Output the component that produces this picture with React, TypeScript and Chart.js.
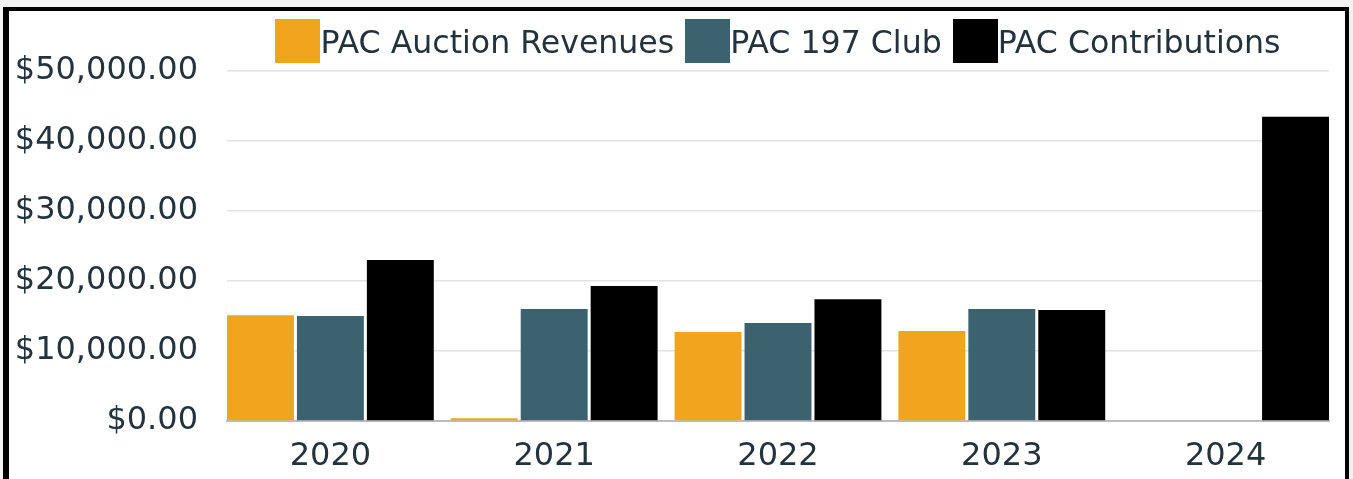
import React, { useEffect, useRef } from "react";
import { Chart, registerables } from "chart.js";

Chart.register(...registerables);

const years = ["2020", "2021", "2022", "2023", "2024"];
const auctionRevenues = [15100, 400, 12700, 12850, 0];
const club197 = [15000, 16000, 14000, 16000, 0];
const contributions = [23000, 19300, 17400, 15850, 43450];
const seriesNames = ["PAC Auction Revenues", "PAC 197 Club", "PAC Contributions"];
const seriesColors = ["#F1A51F", "#3C6270", "#000000"];

const FONT = "'DejaVu Sans', sans-serif";
const TEXT = "#24323d";

const toPoints = (arr: number[]) => arr.map((y, i) => ({ x: i, y }));

export default function App() {
  const ref = useRef<HTMLCanvasElement | null>(null);

  useEffect(() => {
    if (!ref.current) return;
    const chart = new Chart(ref.current, {
      type: "bar",
      data: {
        datasets: [auctionRevenues, club197, contributions].map((d, i) => ({
          label: seriesNames[i],
          data: toPoints(d),
          backgroundColor: seriesColors[i],
          borderWidth: 0,
          categoryPercentage: 0.9375,
          barPercentage: 0.957,
        })),
      },
      options: {
        responsive: false,
        animation: false,
        layout: { padding: { left: 0, right: 24, top: 71, bottom: 0 } },
        plugins: { legend: { display: false }, tooltip: { enabled: false } },
        scales: {
          x: {
            type: "linear",
            offset: false,
            min: -0.462,
            max: 4.462,
            grid: { display: false, offset: false },
            border: { display: true, color: "#bcbcbc", width: 2 },
            ticks: {
              stepSize: 1,
              includeBounds: false,
              autoSkip: false,
              maxRotation: 0,
              padding: 8,
              color: TEXT,
              font: { family: FONT, size: 32 },
              callback: (v: any) => (Number.isInteger(v) ? years[v] : ""),
            },
            afterFit: (s: any) => {
              s.height = 58;
            },
          },
          y: {
            min: 0,
            max: 50000,
            grid: { color: "#e2e2e2", lineWidth: 1.5, drawTicks: false },
            border: { display: false },
            ticks: {
              stepSize: 10000,
              padding: 29,
              color: TEXT,
              font: { family: FONT, size: 32 },
              callback: (v: any) =>
                "$" + Number(v).toLocaleString("en-US", { minimumFractionDigits: 2, maximumFractionDigits: 2 }),
            },
            afterFit: (s: any) => {
              s.width = 227;
            },
          },
        },
      },
    });
    return () => chart.destroy();
  }, []);

  return (
    <div style={{ position: "absolute", left: 0, top: 0, width: 1353, height: 479, background: "#f3f2f2", overflow: "hidden" }}>
      <div
        style={{
          position: "absolute",
          left: 3,
          top: 7,
          width: 1336,
          height: 480,
          background: "#ffffff",
          borderLeft: "6px solid #000",
          borderTop: "4px solid #000",
          borderRight: "4px solid #000",
        }}
      />
      <canvas ref={ref} width={1353} height={479} style={{ position: "absolute", left: 0, top: 0 }} />
      <div
        style={{
          position: "absolute",
          left: 227,
          top: 19,
          width: 1102,
          display: "flex",
          justifyContent: "center",
          gap: 11,
          fontFamily: FONT,
          fontSize: 31.6,
          color: TEXT,
        }}
      >
        {seriesNames.map((n, i) => (
          <div key={n} style={{ display: "flex", alignItems: "center", height: 44 }}>
            <div style={{ width: 45, height: 44, background: seriesColors[i], marginRight: 0 }} />
            <span style={{ lineHeight: "44px", whiteSpace: "nowrap", position: "relative", top: 1 }}>{n}</span>
          </div>
        ))}
      </div>
    </div>
  );
}
